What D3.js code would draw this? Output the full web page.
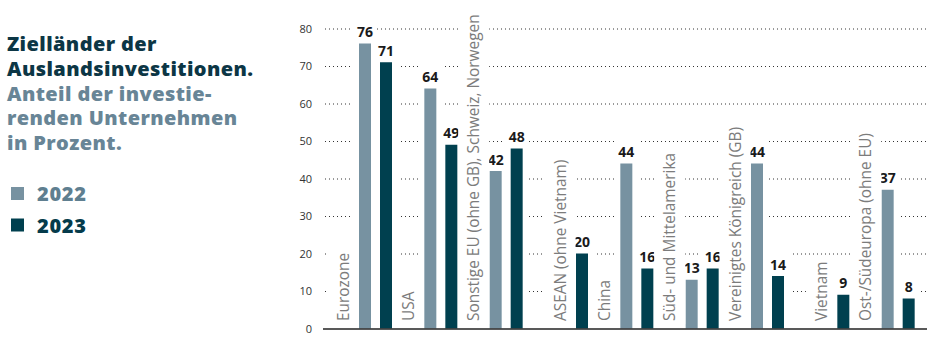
<!DOCTYPE html>
<html><head><meta charset="utf-8">
<script src="https://cdn.jsdelivr.net/npm/d3@7"></script>
<style>
html,body{margin:0;padding:0;background:#fff;}
svg{display:block;font-family:"Open Sans",sans-serif;}
</style></head>
<body><svg id="c" width="941" height="341"></svg>
<script>
const categories = ["Eurozone","USA","Sonstige EU (ohne GB), Schweiz, Norwegen","ASEAN (ohne Vietnam)","China","Süd- und Mittelamerika","Vereinigtes Königreich (GB)","Vietnam","Ost-/Südeuropa (ohne EU)"];
const values2022 = [76,64,42,null,44,13,44,null,37];
const values2023 = [71,49,48,20,16,16,14,9,8];
const years = ["2022","2023"];
const yTicks = [0,10,20,30,40,50,60,70,80];
const titleLines = ["Zielländer der","Auslandsinvestitionen."];
const subtitleLines = ["Anteil der investie-","renden Unternehmen","in Prozent."];

const colors = {"2022":"#7792a1","2023":"#00404f"};
const svg = d3.select("#c");

const y = d3.scaleLinear().domain([0,80]).range([328.5,28.5]);
const x0 = d3.scaleBand().domain(categories).range([333,921]).paddingInner(0).paddingOuter(0);
const x1 = d3.scaleBand().domain(years).range([26,59]).paddingInner(3/7).paddingOuter(0);

// gridlines
const grid = svg.append("g");
grid.selectAll("line").data(yTicks.filter(d=>d>0)).join("line")
  .attr("x1",325).attr("x2",927)
  .attr("y1",d=>y(d)+0.5).attr("y2",d=>y(d)+0.5)
  .attr("stroke","#333").attr("stroke-width",1).attr("stroke-dasharray","1,3");

// y axis labels
const yAxis = d3.axisLeft(y).tickValues(yTicks).tickSize(0).tickPadding(0);
const ga = svg.append("g").attr("transform","translate(312,0)").call(yAxis);
ga.select(".domain").remove();
ga.selectAll("text").attr("font-size",11).attr("fill","#333").attr("font-family","Open Sans, sans-serif");

// data rows
const rows = categories.map((c,i)=>({cat:c, v:{"2022":values2022[i],"2023":values2023[i]}}));
const barData = d=>years.filter(yr=>d.v[yr]!=null).map(yr=>({yr,val:d.v[yr]}));

const groups = svg.append("g").selectAll("g").data(rows).join("g")
  .attr("transform",d=>`translate(${x0(d.cat)},0)`);

// halos behind bars (interrupt gridlines)
groups.selectAll("rect.halo").data(barData).join("rect").attr("class","halo")
  .attr("x",d=>x1(d.yr)-6).attr("width",x1.bandwidth()+12)
  .attr("y",d=>y(d.val)-24).attr("height",d=>y(0)-y(d.val)+24)
  .attr("fill","#fff");

groups.selectAll("rect.bar").data(barData).join("rect").attr("class","bar")
  .attr("x",d=>x1(d.yr)).attr("width",x1.bandwidth())
  .attr("y",d=>y(d.val)).attr("height",d=>y(0)-y(d.val))
  .attr("fill",d=>colors[d.yr]);

groups.selectAll("text.val").data(barData).join("text")
  .attr("class","val")
  .attr("x",d=>x1(d.yr)+x1.bandwidth()/2).attr("y",d=>y(d.val)-6.5)
  .attr("text-anchor","middle").attr("font-size",14).attr("font-weight",700).attr("fill","#1a1a1a")
  .text(d=>d.val);

// category labels with white halo box
const lab = groups.append("g")
  .attr("transform",d=>{
    const cx = 10 + (d.v["2022"]==null ? x1.step() : 0);
    return `translate(${cx},321) rotate(-90)`;
  });
lab.append("rect").attr("fill","#fff");
const labText = lab.append("text")
  .attr("dy","0.36em")
  .attr("font-size",15.4).attr("fill","#7c7c7c")
  .text(d=>d.cat);
labText.each(function(){
  const b = this.getBBox();
  d3.select(this.previousSibling)
    .attr("x",b.x-3).attr("width",b.width+6)
    .attr("y",b.y-5).attr("height",b.height+10);
});

// baseline
svg.append("line").attr("x1",323).attr("x2",927).attr("y1",y(0)+0.5).attr("y2",y(0)+0.5)
  .attr("stroke","#222").attr("stroke-width",1.5);

// title
const t = svg.append("g").attr("font-weight",800).attr("font-size",20).attr("letter-spacing","0.4px");
t.selectAll("text.t").data(titleLines).join("text").attr("class","t")
  .attr("x",7).attr("y",(d,i)=>51+i*24.5).attr("fill","#0c3645").text(d=>d);
t.selectAll("text.s").data(subtitleLines).join("text").attr("class","s")
  .attr("x",7).attr("y",(d,i)=>100.5+i*24.5).attr("fill","#688596").text(d=>d);

// legend
const leg = svg.append("g").selectAll("g").data(years).join("g")
  .attr("transform",(d,i)=>`translate(11,${187+i*31.5})`);
leg.append("rect").attr("width",13).attr("height",13).attr("fill",d=>colors[d]);
leg.append("text").attr("x",26).attr("y",14).attr("font-size",20).attr("font-weight",800)
  .attr("letter-spacing","0.7px")
  .attr("fill",d=>d==="2022"?"#5f7f90":"#053b4b").text(d=>d);
</script></body></html>
